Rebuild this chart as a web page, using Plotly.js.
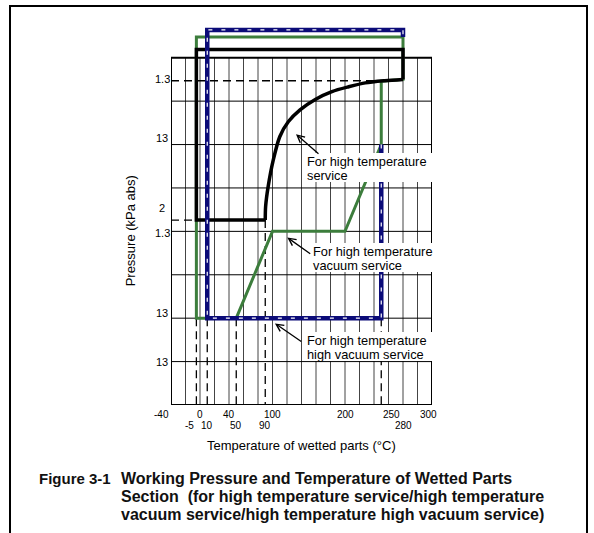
<!DOCTYPE html>
<html><head><meta charset="utf-8">
<script src="https://cdn.plot.ly/plotly-3.0.1.min.js"></script>
<style>
html,body{margin:0;padding:0;background:#fff;}
#wrap{position:relative;width:594px;height:533px;overflow:hidden;}
#chart{width:594px;height:533px;}
#frame{position:absolute;left:9px;top:5px;width:575px;height:560px;border:2px solid #000;border-bottom:none;pointer-events:none;}
</style></head>
<body><div id="wrap"><div id="chart"></div><div id="frame"></div></div>
<script>
// ---- data (temperature in °C, pressure in chart grid rows) ----
const highTempCurveT = [90, 90.5, 94, 101, 110, 122, 138, 159, 182, 205, 228, 255, 280];
const highTempCurveP = [4.26, 4.57, 5.03, 5.64, 6.18, 6.53, 6.80, 7.04, 7.22, 7.33, 7.42, 7.47, 7.50];
const highTempBoxT = [90, -5, -5, 280, 280];
const highTempBoxP = [4.26, 4.26, 8.19, 8.19, 7.50];
const vacuumT = [280, 280, 250, 250, 200, 100, 50, -5, -5, 280];
const vacuumP = [8.48, 7.50, 7.46, 6, 4, 4, 2, 2, 8.48, 8.48];
const highVacT = [250, 250, 10, 10, 280, 280];
const highVacP = [6, 2, 2, 8.64, 8.64, 8.48];
const guideT = [-5, 10, 50, 90, 250];
const guideTopP = [2, 2, 2, 4.26, 2];
const guideHP = [7.47, 4.26];
const guideHEndT = [240, -5];
const xTickTop = [-40, 0, 40, 100, 200, 250, 300];
const xTickBottom = [-5, 10, 50, 90, 280];
const yTickPos = [7.5, 6.14, 4.53, 3.97, 2.12, 1.0];
const yTickText = ['1.3', '13', '2', '1.3', '13', '13'];
const labelLines = [
  ['For high temperature', 'service'],
  ['For high temperature', 'vacuum service'],
  ['For high temperature', 'high vacuum service']
];
const arrowHeadT = [132.4, 120.4, 103.4];
const arrowHeadP = [6.24, 3.86, 1.88];
const arrowTailT = [165.5, 154.1, 141.7];
const arrowTailP = [5.76, 3.46, 1.44];
const xTitle = 'Temperature of wetted parts (°C)';
const yTitle = 'Pressure (kPa abs)';
const captionNum = 'Figure 3-1';
const captionLines = [
  'Working Pressure and Temperature of Wetted Parts',
  'Section\u00a0\u00a0(for high temperature service/high temperature',
  'vacuum service/high temperature high vacuum service)'
];

// ---- styles / layout geometry ----
const xTopAnchor = ['right', 'center', 'center', 'center', 'center', 'left', 'left'];
const xBottomAnchor = ['right', 'center', 'center', 'center', 'center'];
const L = 171, R = 162, T = 23, B = 128;
const PW = 594 - L - R, PH = 533 - T - B;
const px2x = px => (px - L) / PW;
const py2y = py => (533 - B - py) / PH;
const FONT = 'Liberation Sans, Arial, Helvetica, sans-serif';
const xMin = -40, xMax = 320, yMin = 0, yMax = 8, yTop = 8.8;

const shapes = [];
for (let v = xMin + 20; v < xMax; v += 20) {
  shapes.push({type:'line', xref:'x', yref:'y', x0:v, x1:v, y0:yMin, y1:yMax, layer:'below', line:{color:'#444', width:1}});
}
for (let v = yMin + 1; v < yMax; v += 1) {
  shapes.push({type:'line', xref:'x', yref:'y', x0:xMin, x1:xMax, y0:v, y1:v, layer:'below', line:{color:'#000', width:1}});
}
shapes.push({type:'rect', xref:'x', yref:'y', x0:xMin, x1:xMax, y0:yMin, y1:yMax, layer:'below', line:{color:'#000', width:2}});

// guides
const gX = [], gY = [];
guideT.forEach((t, i) => { gX.push(t, t, null); gY.push(guideTopP[i], yMin, null); });
guideHP.forEach((p, i) => { gX.push(xMin, guideHEndT[i], null); gY.push(p, p, null); });

const traces = [
  {x:gX, y:gY, mode:'lines', line:{color:'#000', width:1.3, dash:'8px,5px'}, hoverinfo:'skip'},
  {x:vacuumT, y:vacuumP, mode:'lines', line:{color:'#3c7d3c', width:3}, name:'high temperature vacuum service'},
  {x:highTempBoxT, y:highTempBoxP, mode:'lines', line:{color:'#000', width:3.5}, name:'high temperature service'},
  {x:highTempCurveT, y:highTempCurveP, mode:'lines', line:{color:'#000', width:3.5, shape:'spline', smoothing:0.8}, name:'high temperature service'},
  {x:highVacT, y:highVacP, mode:'lines', line:{color:'#0b0b78', width:4.5}, name:'high temperature high vacuum service'},
  {x:highVacT, y:highVacP, mode:'lines', line:{color:'#ffffff', width:1.2, dash:'4px,9px'}, hoverinfo:'skip'}
];

const ann = [];
const tickFont = {family:FONT, size:10, color:'#000'};
xTickTop.forEach((v, i) => ann.push({xref:'x', yref:'paper', x:v, y:0, yshift:-9, text:String(v), showarrow:false, font:tickFont, xanchor:xTopAnchor[i], yanchor:'middle'}));
xTickBottom.forEach((v, i) => ann.push({xref:'x', yref:'paper', x:v, y:0, yshift:-20, text:String(v), showarrow:false, font:tickFont, xanchor:xBottomAnchor[i], yanchor:'middle'}));
yTickPos.forEach((p, i) => ann.push({xref:'paper', yref:'y', x:0, xshift:-9, y:p, text:yTickText[i], showarrow:false, font:{family:FONT, size:11, color:'#000'}, xanchor:'center', yanchor:'middle'}));
ann.push({xref:'x', yref:'paper', x:(xMin + xMax) / 2, y:0, yshift:-40, text:xTitle, showarrow:false, font:{family:FONT, size:13, color:'#000'}, xanchor:'center', yanchor:'middle'});
ann.push({xref:'paper', yref:'y', x:0, xshift:-41, y:(yMin + yMax) / 2, text:yTitle, textangle:-90, showarrow:false, font:{family:FONT, size:13, color:'#000'}, xanchor:'center', yanchor:'middle'});

// label boxes (white background behind each two-line label)
const labelPos = [[306.5, 161.0], [313.3, 251.0], [306.5, 340.0]];
const lineGap = 14;
labelLines.forEach((lines, i) => {
  const [lx, ly] = labelPos[i];
  shapes.push({type:'rect', xref:'paper', yref:'paper', layer:'above',
    x0:px2x(lx - 4), x1:px2x(lx + 126), y0:py2y(ly - 8), y1:py2y(ly + lineGap * (lines.length - 1) + 7),
    fillcolor:'#fff', line:{width:0}});
  lines.forEach((txt, j) => {
    ann.push({xref:'paper', yref:'paper', x:px2x(lx - 2), y:py2y(ly + j * lineGap), text:txt, showarrow:false,
      font:{family:FONT, size:12.8, color:'#000'}, xanchor:'left', yanchor:'middle'});
  });
});
arrowHeadT.forEach((t, i) => ann.push({xref:'x', yref:'y', x:t, y:arrowHeadP[i], axref:'x', ayref:'y', ax:arrowTailT[i], ay:arrowTailP[i],
  text:'', showarrow:true, arrowhead:5, arrowsize:1.1, arrowwidth:1.3, arrowcolor:'#000', standoff:0, startstandoff:0}));

// caption
const capFont = {family:FONT, size:16, color:'#111'};
ann.push({xref:'paper', yref:'paper', x:px2x(37), y:py2y(478.5), text:'<b>' + captionNum + '</b>', showarrow:false, font:{family:FONT, size:15, color:'#111'}, xanchor:'left', yanchor:'middle'});
captionLines.forEach((txt, j) => ann.push({xref:'paper', yref:'paper', x:px2x(119), y:py2y(478.5 + j * 17.8), text:'<b>' + txt + '</b>', showarrow:false, font:capFont, xanchor:'left', yanchor:'middle'}));

const layout = {
  width:594, height:533, margin:{l:L, r:R, t:T, b:B, pad:0},
  paper_bgcolor:'#fff', plot_bgcolor:'#fff', showlegend:false,
  xaxis:{range:[xMin, xMax], showgrid:false, zeroline:false, showticklabels:false, ticks:'', showline:false, fixedrange:true},
  yaxis:{range:[yMin, yTop], showgrid:false, zeroline:false, showticklabels:false, ticks:'', showline:false, fixedrange:true},
  shapes:shapes, annotations:ann
};
Plotly.newPlot('chart', traces, layout, {staticPlot:true, displayModeBar:false});
</script></body></html>
